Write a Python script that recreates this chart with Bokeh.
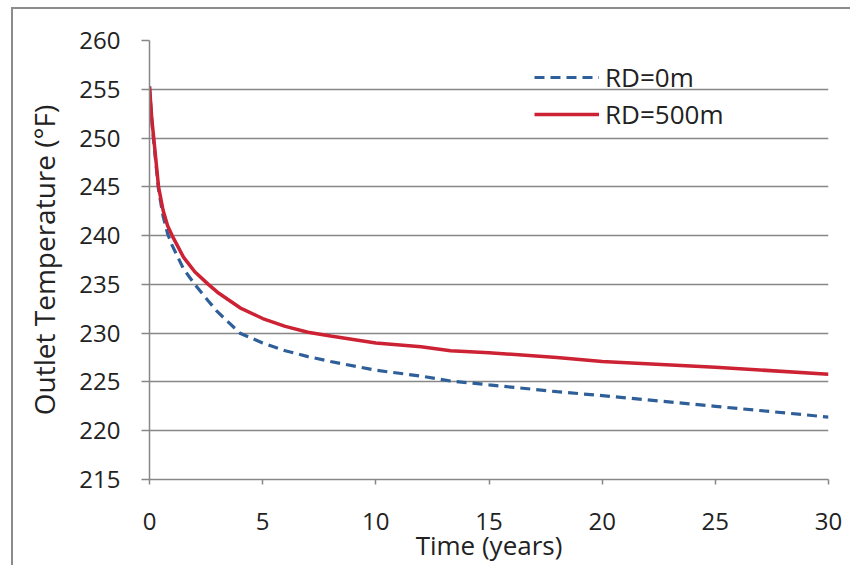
from bokeh.plotting import figure
from bokeh.models import Range1d, FixedTicker, Legend, LegendItem
from bokeh.embed import file_html
from bokeh.resources import INLINE

# Data
time_years = [0, 0.1, 0.2, 0.4, 0.6, 0.8, 1.0, 1.5, 2, 2.6, 3, 4, 5, 6, 7, 8, 10, 12, 13.3, 15, 18, 20, 25, 30]
rd_0m = [255.3, 251.8, 249.3, 244.7, 242.0, 240.2, 239.0, 236.6, 235.0, 233.3, 232.2, 230.0, 229.0, 228.2,
         227.6, 227.1, 226.2, 225.6, 225.1, 224.7, 224.0, 223.6, 222.5, 221.4]
rd_500m = [255.3, 252.0, 249.7, 245.0, 242.6, 241.0, 240.0, 237.8, 236.3, 235.0, 234.2, 232.6, 231.5, 230.7,
           230.1, 229.7, 229.0, 228.6, 228.2, 228.0, 227.5, 227.1, 226.5, 225.8]
x_ticks = [0, 5, 10, 15, 20, 25, 30]
y_ticks = [215, 220, 225, 230, 235, 240, 245, 250, 255, 260]

FONT = "Open Sans"
GRAY = "#878787"

p = figure(width=839, height=558, output_backend="svg", toolbar_location=None,
           x_range=Range1d(0, 30), y_range=Range1d(215, 260),
           min_border_left=136, min_border_right=24, min_border_top=31, min_border_bottom=88)
p.styles = {"margin-left": "11px", "margin-top": "7px",
            "border-left": "2px solid #8c8c8c", "border-top": "2px solid #8c8c8c"}
p.outline_line_color = None
p.background_fill_color = "white"
p.border_fill_color = "white"

p.xgrid.visible = False
p.ygrid.ticker = FixedTicker(ticks=y_ticks)
p.ygrid.grid_line_color = GRAY
p.ygrid.grid_line_width = 1.5

p.xaxis.ticker = FixedTicker(ticks=x_ticks)
p.yaxis.ticker = FixedTicker(ticks=y_ticks)
for ax in (p.xaxis, p.yaxis):
    ax.axis_line_color = GRAY
    ax.axis_line_width = 1.5
    ax.major_tick_line_color = GRAY
    ax.major_tick_line_width = 1.5
    ax.minor_tick_line_color = None
    ax.major_tick_in = 0
    ax.major_label_text_font = FONT
    ax.major_label_text_font_size = "24px"
    ax.major_label_text_color = "#222222"
    ax.axis_label_text_font = FONT
    ax.axis_label_text_font_style = "normal"
    ax.axis_label_text_color = "#222222"
p.xaxis.axis_label_text_font_size = "26px"
p.yaxis.axis_label_text_font_size = "28px"
p.xaxis.major_tick_out = 5
p.yaxis.major_tick_out = 8
p.yaxis.major_label_standoff = 21
p.xaxis.major_label_standoff = 28
p.xaxis.axis_label = "Time (years)"
p.yaxis.axis_label = "Outlet Temperature (°F)"
p.xaxis.axis_label_standoff = -6
p.yaxis.axis_label_standoff = 13

r0 = p.line(time_years, rd_0m, line_color="#2f5f98", line_width=3.2, line_dash="10 6")
r1 = p.line(time_years, rd_500m, line_color="#cc2233", line_width=3.5)

legend = Legend(items=[LegendItem(label="RD=0m", renderers=[r0]),
                       LegendItem(label="RD=500m", renderers=[r1])],
                location=(385, 347), background_fill_alpha=0, border_line_color=None,
                label_text_font=FONT, label_text_font_size="26px", label_text_color="#222222",
                glyph_width=65, glyph_height=20, label_height=20, spacing=1, padding=10,
                label_standoff=6)
p.add_layout(legend, "center")

open("out.html", "w").write(file_html(p, INLINE))
